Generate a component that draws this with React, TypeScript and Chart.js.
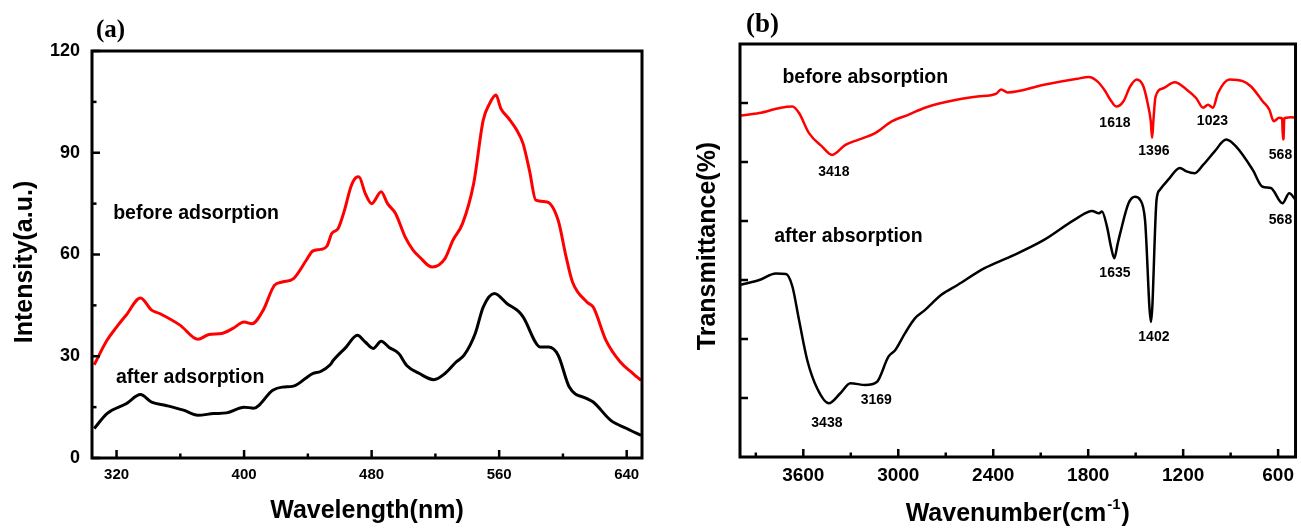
import React, { useEffect, useRef } from 'react';
import { Chart, registerables } from 'chart.js';

Chart.register(...registerables);

const SANS = "'Liberation Sans', Arial, Helvetica, sans-serif";
const SERIF = "'Liberation Serif', 'Times New Roman', serif";

// ---------- Panel (a): photoluminescence ----------
const wavelengthBefore = [306, 314, 320, 326, 335, 342, 347, 360, 371, 378, 386, 393, 400, 405, 412, 419, 424, 431, 439, 443, 448, 452, 455, 459, 463, 467, 470, 472, 476, 480, 486, 490, 495, 501, 506, 510, 518, 526, 531, 537, 544, 550, 554, 558, 561, 566, 571, 575, 579, 583, 590, 597, 602, 606, 615, 619, 627, 636, 644, 649];
const intensityBefore = [27.5, 34.7, 38.6, 42.1, 47.2, 43.6, 42.6, 39.1, 35.0, 36.4, 36.7, 38.2, 40.1, 39.6, 43.6, 50.9, 51.9, 52.9, 58.3, 61.0, 61.5, 62.5, 66.2, 67.7, 73.1, 80.0, 82.6, 82.9, 78.0, 75.0, 78.5, 75.0, 72.1, 65.2, 61.3, 59.3, 56.3, 58.8, 64.2, 69.1, 80.9, 99.6, 104.5, 107.0, 103.1, 100.1, 96.7, 92.7, 84.8, 76.0, 75.5, 70.1, 59.3, 51.9, 46.0, 44.5, 34.7, 28.3, 24.9, 22.9];
const wavelengthAfter = [306, 314, 326, 335, 342, 351, 362, 371, 381, 389, 400, 406, 418, 424, 431, 443, 448, 454, 456, 464, 471, 476, 481, 486, 491, 497, 502, 510, 519, 526, 533, 538, 545, 550, 557, 565, 572, 575, 586, 591, 597, 604, 615, 619, 630, 640, 649];
const intensityAfter = [8.7, 13.1, 16.0, 18.7, 16.5, 15.5, 14.1, 12.6, 13.1, 13.3, 15.0, 14.7, 20.0, 20.9, 21.2, 24.9, 25.5, 27.5, 28.8, 32.7, 36.2, 34.2, 32.3, 34.4, 32.6, 30.8, 27.3, 24.9, 23.1, 24.9, 28.3, 30.3, 36.7, 44.5, 48.5, 45.5, 43.3, 41.6, 32.7, 32.7, 30.3, 20.9, 17.5, 16.5, 11.1, 8.7, 6.7];
const wavelengthTicks = [320, 400, 480, 560, 640];
const wavelengthMinorTicks = [360, 440, 520, 600];
const intensityTicks = [0, 30, 60, 90, 120];
const intensityMinorTicks = [15, 45, 75, 105];
const labelsA = [
  { text: 'before adsorption', x: 317.9, y: 70.4 },
  { text: 'after adsorption', x: 319.6, y: 22.2 },
];

// ---------- Panel (b): FTIR ----------
const wavenumberBefore = [3993, 3878, 3742, 3669, 3627, 3564, 3481, 3418, 3334, 3250, 3146, 3041, 2937, 2832, 2728, 2623, 2499, 2380, 2351, 2309, 2079, 1870, 1796, 1744, 1692, 1661, 1623, 1577, 1535, 1493, 1451, 1420, 1405, 1396, 1388, 1375, 1326, 1253, 1179, 1117, 1074, 1043, 1012, 980, 907, 823, 771, 698, 656, 628, 593, 575, 569, 566, 561, 551, 520, 490];
const transmittanceBefore = [5.79, 5.83, 5.92, 5.94, 5.83, 5.49, 5.26, 5.12, 5.29, 5.38, 5.49, 5.69, 5.80, 5.92, 6.00, 6.06, 6.11, 6.16, 6.23, 6.18, 6.31, 6.41, 6.44, 6.37, 6.20, 6.06, 5.94, 6.03, 6.28, 6.40, 6.28, 5.94, 5.70, 5.41, 5.70, 6.10, 6.25, 6.35, 6.23, 6.08, 5.92, 5.97, 5.92, 6.17, 6.40, 6.37, 6.28, 6.03, 5.89, 5.69, 5.75, 5.74, 5.38, 5.40, 5.74, 5.75, 5.76, 5.75];
const wavenumberAfter = [3993, 3878, 3773, 3710, 3669, 3627, 3575, 3512, 3439, 3366, 3302, 3208, 3136, 3062, 3020, 2957, 2895, 2832, 2728, 2623, 2455, 2288, 2079, 1870, 1775, 1733, 1713, 1681, 1655, 1635, 1615, 1598, 1545, 1504, 1472, 1441, 1403, 1368, 1347, 1294, 1221, 1179, 1127, 1074, 1001, 928, 865, 761, 698, 646, 572, 530, 490];
const transmittanceAfter = [2.92, 3.00, 3.11, 3.10, 2.89, 2.32, 1.64, 1.16, 0.91, 1.08, 1.25, 1.22, 1.27, 1.70, 1.81, 2.10, 2.35, 2.49, 2.75, 2.92, 3.20, 3.40, 3.68, 4.05, 4.17, 4.13, 4.16, 3.90, 3.55, 3.37, 3.60, 3.79, 4.30, 4.41, 4.36, 4.02, 2.29, 4.36, 4.53, 4.70, 4.90, 4.84, 4.81, 4.95, 5.18, 5.38, 5.26, 4.87, 4.58, 4.56, 4.30, 4.47, 4.36];
const wavenumberTicks = [3600, 3000, 2400, 1800, 1200, 600];
const wavenumberMinorTicks = [3900, 3300, 2700, 2100, 1500, 900];
const transmittanceTicks = [1, 2, 3, 4, 5, 6];
const labelsB = [
  { text: 'before absorption', x: 3732, y: 6.34 },
  { text: 'after absorption', x: 3784, y: 3.65 },
];
const peakLabelsB = [
  { text: '3418', x: 3407, y: 4.77 },
  { text: '1618', x: 1631, y: 5.60 },
  { text: '1396', x: 1385, y: 5.12 },
  { text: '1023', x: 1015, y: 5.63 },
  { text: '568', x: 585, y: 5.05 },
  { text: '568', x: 585, y: 3.95 },
  { text: '1635', x: 1631, y: 3.05 },
  { text: '1402', x: 1385, y: 1.96 },
  { text: '3438', x: 3451, y: 0.51 },
  { text: '3169', x: 3139, y: 0.89 },
];

type Label = { text: string; x: number; y: number };

type PanelCfg = {
  xMajor: number[];
  xMinor: number[];
  yMajor: number[];
  yMinor: number[];
  labels: Label[];
  peaks: Label[];
  panelTag: string;
  tagSize: number;
  tagDx: number;
  tagDy: number;
  xTitle: string;
  xTitleSup?: string;
  xTitleBaseline: number;
  yTitle: string;
  yTitleX: number;
  yTitleCenter: number;
};

function panelPlugin(cfg: PanelCfg) {
  return {
    id: 'panelDecor',
    afterDatasetsDraw(chart: any) {
      const { ctx, chartArea: a, scales } = chart;
      const xs = scales.x;
      const ys = scales.y;
      ctx.save();
      ctx.strokeStyle = '#000';
      ctx.fillStyle = '#000';
      ctx.lineWidth = 2.5;
      const seg = (x1: number, y1: number, x2: number, y2: number) => {
        ctx.beginPath();
        ctx.moveTo(x1, y1);
        ctx.lineTo(x2, y2);
        ctx.stroke();
      };
      cfg.xMajor.forEach((v) => { const p = xs.getPixelForValue(v); seg(p, a.bottom, p, a.bottom - 8); });
      cfg.xMinor.forEach((v) => { const p = xs.getPixelForValue(v); seg(p, a.bottom, p, a.bottom - 4.5); });
      cfg.yMajor.forEach((v) => { const p = ys.getPixelForValue(v); seg(a.left, p, a.left + 8, p); });
      cfg.yMinor.forEach((v) => { const p = ys.getPixelForValue(v); seg(a.left, p, a.left + 4.5, p); });
      ctx.lineWidth = 3;
      ctx.strokeRect(a.left, a.top, a.right - a.left, a.bottom - a.top);

      // series labels
      ctx.textAlign = 'left';
      ctx.textBaseline = 'alphabetic';
      ctx.font = `bold 19.5px ${SANS}`;
      cfg.labels.forEach((l) => ctx.fillText(l.text, xs.getPixelForValue(l.x), ys.getPixelForValue(l.y)));
      ctx.textAlign = 'center';
      ctx.font = `bold 14px ${SANS}`;
      cfg.peaks.forEach((l) => ctx.fillText(l.text, xs.getPixelForValue(l.x), ys.getPixelForValue(l.y)));

      // panel tag
      ctx.textAlign = 'left';
      ctx.font = `bold ${cfg.tagSize}px ${SERIF}`;
      ctx.fillText(cfg.panelTag, a.left + cfg.tagDx, a.top + cfg.tagDy);

      // x title
      ctx.font = `bold 25px ${SANS}`;
      const cx = (a.left + a.right) / 2;
      if (cfg.xTitleSup) {
        const main = cfg.xTitle;
        const close = ')';
        const wMain = ctx.measureText(main).width;
        const wClose = ctx.measureText(close).width;
        ctx.font = `bold 15px ${SANS}`;
        const wSup = ctx.measureText(cfg.xTitleSup).width;
        const total = wMain + wSup + 2 + wClose;
        let x0 = cx - total / 2;
        ctx.textAlign = 'left';
        ctx.font = `bold 25px ${SANS}`;
        ctx.fillText(main, x0, cfg.xTitleBaseline);
        x0 += wMain + 1;
        ctx.font = `bold 15px ${SANS}`;
        ctx.fillText(cfg.xTitleSup, x0, cfg.xTitleBaseline - 12);
        x0 += wSup + 1;
        ctx.font = `bold 25px ${SANS}`;
        ctx.fillText(close, x0, cfg.xTitleBaseline);
      } else {
        ctx.textAlign = 'center';
        ctx.fillText(cfg.xTitle, cx, cfg.xTitleBaseline);
      }

      // y title
      ctx.save();
      ctx.translate(cfg.yTitleX, cfg.yTitleCenter);
      ctx.rotate(-Math.PI / 2);
      ctx.textAlign = 'center';
      ctx.font = `bold 25px ${SANS}`;
      ctx.fillText(cfg.yTitle, 0, 0);
      ctx.restore();

      ctx.restore();
    },
  };
}

function toPoints(xs: number[], ys: number[]) {
  return xs.map((x, i) => ({ x, y: ys[i] }));
}

const plainLabel = (v: any) => String(v);

function PanelA() {
  const ref = useRef<HTMLCanvasElement | null>(null);
  useEffect(() => {
    const cfg: PanelCfg = {
      xMajor: wavelengthTicks,
      xMinor: wavelengthMinorTicks,
      yMajor: intensityTicks,
      yMinor: intensityMinorTicks,
      labels: labelsA,
      peaks: [],
      panelTag: '(a)',
      tagSize: 25,
      tagDx: 4,
      tagDy: -14,
      xTitle: 'Wavelength(nm)',
      xTitleBaseline: 518,
      yTitle: 'Intensity(a.u.)',
      yTitleX: 32,
      yTitleCenter: 262,
    };
    const chart = new Chart(ref.current as HTMLCanvasElement, {
      type: 'line',
      data: {
        datasets: [
          { data: toPoints(wavelengthBefore, intensityBefore), borderColor: '#ff0000', borderWidth: 3, pointRadius: 0, cubicInterpolationMode: 'monotone', fill: false },
          { data: toPoints(wavelengthAfter, intensityAfter), borderColor: '#000000', borderWidth: 3, pointRadius: 0, cubicInterpolationMode: 'monotone', fill: false },
        ],
      },
      options: {
        animation: false,
        responsive: false,
        devicePixelRatio: 1,
        parsing: false,
        layout: { padding: { top: 51, right: 8, left: 0, bottom: 0 } },
        plugins: { legend: { display: false }, tooltip: { enabled: false } },
        scales: {
          x: {
            type: 'linear',
            min: 304.6,
            max: 649.6,
            afterBuildTicks: (s: any) => { s.ticks = wavelengthTicks.map((v) => ({ value: v })); },
            afterFit: (s: any) => { s.height = 73; },
            grid: { display: false, drawTicks: false },
            border: { display: false },
            ticks: { color: '#000', padding: 8, maxRotation: 0, autoSkip: false, callback: plainLabel, font: { family: SANS, size: 15, weight: 'bold' } },
          },
          y: {
            type: 'linear',
            min: 0,
            max: 120,
            afterBuildTicks: (s: any) => { s.ticks = intensityTicks.map((v) => ({ value: v })); },
            afterFit: (s: any) => { s.width = 92; },
            grid: { display: false, drawTicks: false },
            border: { display: false },
            ticks: { color: '#000', padding: 12, callback: plainLabel, font: { family: SANS, size: 18, weight: 'bold' } },
          },
        },
      } as any,
      plugins: [panelPlugin(cfg)],
    });
    return () => chart.destroy();
  }, []);
  return <canvas ref={ref} width={650} height={531} style={{ position: 'absolute', left: 0, top: 0, width: 650, height: 531 }} />;
}

function PanelB() {
  const ref = useRef<HTMLCanvasElement | null>(null);
  useEffect(() => {
    const cfg: PanelCfg = {
      xMajor: wavenumberTicks,
      xMinor: wavenumberMinorTicks,
      yMajor: transmittanceTicks,
      yMinor: [],
      labels: labelsB,
      peaks: peakLabelsB,
      panelTag: '(b)',
      tagSize: 27,
      tagDx: 6,
      tagDy: -12,
      xTitle: 'Wavenumber(cm',
      xTitleSup: '-1',
      xTitleBaseline: 521,
      yTitle: 'Transmittance(%)',
      yTitleX: 65,
      yTitleCenter: 246,
    };
    const chart = new Chart(ref.current as HTMLCanvasElement, {
      type: 'line',
      data: {
        datasets: [
          { data: toPoints(wavenumberBefore, transmittanceBefore), borderColor: '#ff0000', borderWidth: 2.5, pointRadius: 0, cubicInterpolationMode: 'monotone', fill: false },
          { data: toPoints(wavenumberAfter, transmittanceAfter), borderColor: '#000000', borderWidth: 2.5, pointRadius: 0, cubicInterpolationMode: 'monotone', fill: false },
        ],
      },
      options: {
        animation: false,
        responsive: false,
        devicePixelRatio: 1,
        parsing: false,
        layout: { padding: { top: 44, right: 1, left: 0, bottom: 0 } },
        plugins: { legend: { display: false }, tooltip: { enabled: false } },
        scales: {
          x: {
            type: 'linear',
            reverse: true,
            min: 490,
            max: 4000,
            afterBuildTicks: (s: any) => { s.ticks = wavenumberTicks.map((v) => ({ value: v })); },
            afterFit: (s: any) => { s.height = 74; },
            grid: { display: false, drawTicks: false },
            border: { display: false },
            ticks: { color: '#000', padding: 7, maxRotation: 0, autoSkip: false, callback: plainLabel, font: { family: SANS, size: 19, weight: 'bold' } },
          },
          y: {
            type: 'linear',
            min: 0,
            max: 7,
            afterBuildTicks: (s: any) => { s.ticks = transmittanceTicks.map((v) => ({ value: v })); },
            afterFit: (s: any) => { s.width = 90; },
            grid: { display: false, drawTicks: false },
            border: { display: false },
            ticks: { display: false },
          },
        },
      } as any,
      plugins: [panelPlugin(cfg)],
    });
    return () => chart.destroy();
  }, []);
  return <canvas ref={ref} width={651} height={531} style={{ position: 'absolute', left: 650, top: 0, width: 651, height: 531 }} />;
}

export default function App() {
  useEffect(() => {
    document.body.style.margin = '0';
  }, []);
  return (
    <div style={{ position: 'absolute', left: 0, top: 0, width: 1301, height: 531, background: '#fff', overflow: 'hidden' }}>
      <PanelA />
      <PanelB />
    </div>
  );
}
